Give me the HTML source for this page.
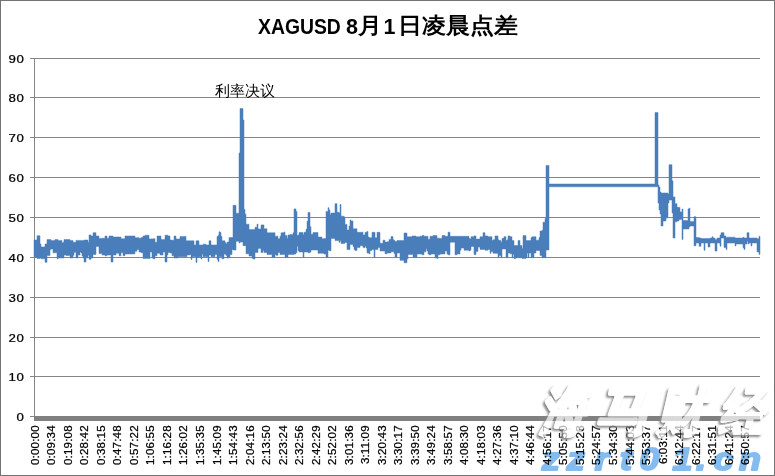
<!DOCTYPE html>
<html><head><meta charset="utf-8"><style>
html,body{margin:0;padding:0;background:#fff;}
body{width:775px;height:476px;overflow:hidden;position:relative;}
svg{position:absolute;left:0;top:0;display:block;}
#title span{position:absolute;white-space:nowrap;font-family:'Liberation Sans',sans-serif;color:#000;}
#title .l{font-size:21.5px;font-weight:bold;top:14.6px;}
#title .c{font-size:23.5px;font-weight:bold;top:10.4px;transform:scaleY(0.92);transform-origin:0 50%;}
#ann{position:absolute;left:214.8px;top:82.2px;font-size:14.7px;font-family:'Liberation Sans',sans-serif;color:#000;white-space:nowrap;}
text{font-family:"Liberation Sans",sans-serif;}
</style></head><body>
<svg width="775" height="476" viewBox="0 0 775 476">
<defs>
<filter id="sh" x="-10%" y="-10%" width="120%" height="130%">
<feOffset in="SourceAlpha" dx="-2" dy="2" result="o"/>
<feGaussianBlur in="o" stdDeviation="0.8" result="b"/>
<feComposite in="b" in2="SourceAlpha" operator="out" result="bo"/>
<feFlood flood-color="#858585"/>
<feComposite in2="bo" operator="in" result="s"/>
<feComponentTransfer in="SourceGraphic" result="sg"><feFuncA type="linear" slope="0.7"/></feComponentTransfer>
<feMerge><feMergeNode in="s"/><feMergeNode in="sg"/></feMerge>
</filter>
</defs>
<rect x="0.5" y="0.5" width="774" height="475" fill="#fff" stroke="#737373" stroke-width="1"/>
<g stroke="#868686" stroke-width="1" shape-rendering="crispEdges"><line x1="30" y1="58.5" x2="760" y2="58.5"/><line x1="30" y1="97.5" x2="760" y2="97.5"/><line x1="30" y1="137.5" x2="760" y2="137.5"/><line x1="30" y1="177.5" x2="760" y2="177.5"/><line x1="30" y1="217.5" x2="760" y2="217.5"/><line x1="30" y1="257.5" x2="760" y2="257.5"/><line x1="30" y1="297.5" x2="760" y2="297.5"/><line x1="30" y1="337.5" x2="760" y2="337.5"/><line x1="30" y1="376.5" x2="760" y2="376.5"/><line x1="30" y1="416.5" x2="34" y2="416.5"/></g>
<line x1="34.5" y1="58" x2="34.5" y2="417" stroke="#868686" stroke-width="1" shape-rendering="crispEdges"/>
<rect x="34" y="416" width="726" height="5" fill="#808080"/>
<g font-size="11.5" fill="#000" stroke="#000" stroke-width="0.25" text-anchor="end" letter-spacing="0.5"><text transform="translate(24.4,62.8) scale(1.15,1)">90</text><text transform="translate(24.4,101.8) scale(1.15,1)">80</text><text transform="translate(24.4,141.8) scale(1.15,1)">70</text><text transform="translate(24.4,181.8) scale(1.15,1)">60</text><text transform="translate(24.4,221.8) scale(1.15,1)">50</text><text transform="translate(24.4,261.8) scale(1.15,1)">40</text><text transform="translate(24.4,301.8) scale(1.15,1)">30</text><text transform="translate(24.4,341.8) scale(1.15,1)">20</text><text transform="translate(24.4,380.8) scale(1.15,1)">10</text><text transform="translate(24.4,420.8) scale(1.15,1)">0</text></g>
<g font-size="11.5" fill="#000" stroke="#000" stroke-width="0.25" text-anchor="end" letter-spacing="0.2"><text transform="translate(38.80,425.2) rotate(-90)">0:00:00</text><text transform="translate(55.32,425.2) rotate(-90)">0:09:34</text><text transform="translate(71.84,425.2) rotate(-90)">0:19:08</text><text transform="translate(88.36,425.2) rotate(-90)">0:28:42</text><text transform="translate(104.88,425.2) rotate(-90)">0:38:15</text><text transform="translate(121.40,425.2) rotate(-90)">0:47:48</text><text transform="translate(137.92,425.2) rotate(-90)">0:57:22</text><text transform="translate(154.44,425.2) rotate(-90)">1:06:55</text><text transform="translate(170.96,425.2) rotate(-90)">1:16:28</text><text transform="translate(187.48,425.2) rotate(-90)">1:26:02</text><text transform="translate(204.00,425.2) rotate(-90)">1:35:35</text><text transform="translate(220.52,425.2) rotate(-90)">1:45:09</text><text transform="translate(237.04,425.2) rotate(-90)">1:54:43</text><text transform="translate(253.56,425.2) rotate(-90)">2:04:16</text><text transform="translate(270.08,425.2) rotate(-90)">2:13:50</text><text transform="translate(286.60,425.2) rotate(-90)">2:23:24</text><text transform="translate(303.12,425.2) rotate(-90)">2:32:56</text><text transform="translate(319.64,425.2) rotate(-90)">2:42:29</text><text transform="translate(336.16,425.2) rotate(-90)">2:52:02</text><text transform="translate(352.68,425.2) rotate(-90)">3:01:36</text><text transform="translate(369.20,425.2) rotate(-90)">3:11:09</text><text transform="translate(385.72,425.2) rotate(-90)">3:20:43</text><text transform="translate(402.24,425.2) rotate(-90)">3:30:17</text><text transform="translate(418.76,425.2) rotate(-90)">3:39:50</text><text transform="translate(435.28,425.2) rotate(-90)">3:49:24</text><text transform="translate(451.80,425.2) rotate(-90)">3:58:57</text><text transform="translate(468.32,425.2) rotate(-90)">4:08:30</text><text transform="translate(484.84,425.2) rotate(-90)">4:18:03</text><text transform="translate(501.36,425.2) rotate(-90)">4:27:36</text><text transform="translate(517.88,425.2) rotate(-90)">4:37:10</text><text transform="translate(534.40,425.2) rotate(-90)">4:46:44</text><text transform="translate(550.92,425.2) rotate(-90)">4:56:17</text><text transform="translate(567.44,425.2) rotate(-90)">5:05:50</text><text transform="translate(583.96,425.2) rotate(-90)">5:15:23</text><text transform="translate(600.48,425.2) rotate(-90)">5:24:57</text><text transform="translate(617.00,425.2) rotate(-90)">5:34:30</text><text transform="translate(633.52,425.2) rotate(-90)">5:44:03</text><text transform="translate(650.04,425.2) rotate(-90)">5:53:37</text><text transform="translate(666.56,425.2) rotate(-90)">6:03:11</text><text transform="translate(683.08,425.2) rotate(-90)">6:12:44</text><text transform="translate(699.60,425.2) rotate(-90)">6:22:17</text><text transform="translate(716.12,425.2) rotate(-90)">6:31:51</text><text transform="translate(732.64,425.2) rotate(-90)">6:41:24</text><text transform="translate(749.16,425.2) rotate(-90)">6:50:57</text></g>
<polygon points="34,240 35,240 35,240 36,240 36,240 37,240 37,235.7 38,235.7 38,235.7 39,235.7 39,235.7 40,235.7 40,244 41,244 41,246.9 42,246.9 42,246.9 43,246.9 43,246.9 44,246.9 44,246.9 45,246.9 45,244 46,244 46,244 47,244 47,239.6 48,239.6 48,239.6 49,239.6 49,239.6 50,239.6 50,239.6 51,239.6 51,240.4 52,240.4 52,240.4 53,240.4 53,240.4 54,240.4 54,240.4 55,240.4 55,239.6 56,239.6 56,239.6 57,239.6 57,239.6 58,239.6 58,240.4 59,240.4 59,240.4 60,240.4 60,240.4 61,240.4 61,240.4 62,240.4 62,243 63,243 63,242.2 64,242.2 64,239.6 65,239.6 65,239.6 66,239.6 66,239.6 67,239.6 67,239.6 68,239.6 68,239.6 69,239.6 69,239.6 70,239.6 70,240.4 71,240.4 71,240.4 72,240.4 72,240.4 73,240.4 73,242.2 74,242.2 74,242.2 75,242.2 75,242.2 76,242.2 76,240.4 77,240.4 77,240.4 78,240.4 78,240.4 79,240.4 79,240.4 80,240.4 80,240.4 81,240.4 81,240.4 82,240.4 82,240.4 83,240.4 83,240.4 84,240.4 84,240 85,240 85,240 86,240 86,240 87,240 87,240 88,240 88,242.2 89,242.2 89,234.9 90,234.9 90,234.9 91,234.9 91,236 92,236 92,236 93,236 93,232.7 94,232.7 94,232.7 95,232.7 95,232.7 96,232.7 96,236 97,236 97,236 98,236 98,236 99,236 99,238.5 100,238.5 100,238.5 101,238.5 101,238.5 102,238.5 102,238.2 103,238.2 103,238.2 104,238.2 104,238.2 105,238.2 105,236 106,236 106,236 107,236 107,238.2 108,238.2 108,238.2 109,238.2 109,236 110,236 110,236 111,236 111,236 112,236 112,236 113,236 113,237 114,237 114,237 115,237 115,237 116,237 116,237 117,237 117,237 118,237 118,237 119,237 119,237 120,237 120,237 121,237 121,238.7 122,238.7 122,238.7 123,238.7 123,238.7 124,238.7 124,238.7 125,238.7 125,236 126,236 126,236 127,236 127,236 128,236 128,236 129,236 129,236 130,236 130,236 131,236 131,236 132,236 132,236 133,236 133,236 134,236 134,236 135,236 135,237.7 136,237.7 136,237.7 137,237.7 137,237.7 138,237.7 138,237.7 139,237.7 139,238.2 140,238.2 140,238.2 141,238.2 141,237.5 142,237.5 142,237.5 143,237.5 143,236 144,236 144,236 145,236 145,235.2 146,235.2 146,235.2 147,235.2 147,235.2 148,235.2 148,235.2 149,235.2 149,238.9 150,238.9 150,238.9 151,238.9 151,238.9 152,238.9 152,238.9 153,238.9 153,238.8 154,238.8 154,238.8 155,238.8 155,242.2 156,242.2 156,242.2 157,242.2 157,236 158,236 158,236 159,236 159,236 160,236 160,236 161,236 161,239.4 162,239.4 162,239.4 163,239.4 163,239.4 164,239.4 164,239.4 165,239.4 165,235.2 166,235.2 166,235.2 167,235.2 167,235.2 168,235.2 168,236 169,236 169,236 170,236 170,240 171,240 171,240 172,240 172,240.3 173,240.3 173,240.3 174,240.3 174,236 175,236 175,236 176,236 176,239 177,239 177,239 178,239 178,239 179,239 179,239 180,239 180,236.4 181,236.4 181,236.4 182,236.4 182,236.4 183,236.4 183,236.4 184,236.4 184,236.4 185,236.4 185,236.4 186,236.4 186,240.8 187,240.8 187,240.8 188,240.8 188,240.8 189,240.8 189,240.8 190,240.8 190,240.8 191,240.8 191,240.8 192,240.8 192,240.8 193,240.8 193,240.8 194,240.8 194,245 195,245 195,245 196,245 196,240.8 197,240.8 197,240.8 198,240.8 198,240.8 199,240.8 199,245 200,245 200,245 201,245 201,245 202,245 202,245 203,245 203,244.2 204,244.2 204,244.2 205,244.2 205,244.2 206,244.2 206,245 207,245 207,245 208,245 208,245 209,245 209,240.8 210,240.8 210,240.8 211,240.8 211,245 212,245 212,245 213,245 213,245 214,245 214,245 215,245 215,245 216,245 216,245 217,245 217,236.4 218,236.4 218,235.6 219,235.6 219,231.8 220,231.8 220,232.6 221,232.6 221,236.4 222,236.4 222,240.8 223,240.8 223,240.8 224,240.8 224,240.8 225,240.8 225,242.7 226,242.7 226,243.9 227,243.9 227,242 228,242 228,242 229,242 229,237.6 230,237.6 230,237.6 231,237.6 231,237.6 232,237.6 232,237.6 233,237.6 233,205.3 234,205.3 234,205.3 235,205.3 235,205.3 236,205.3 236,213.2 237,213.2 237,213.2 238,213.2 238,213.2 239,213.2 239,153 240,153 240,108.5 241,108.5 241,108.5 242,108.5 242,108.5 243,108.5 243,120 244,120 244,209.4 245,209.4 245,214.2 246,214.2 246,224.2 247,224.2 247,224.2 248,224.2 248,224.2 249,224.2 249,229.6 250,229.6 250,229.6 251,229.6 251,229.6 252,229.6 252,229.6 253,229.6 253,229.6 254,229.6 254,229.6 255,229.6 255,227.2 256,227.2 256,227.2 257,227.2 257,224.1 258,224.1 258,229 259,229 259,229 260,229 260,229 261,229 261,224.9 262,224.9 262,224.9 263,224.9 263,224.9 264,224.9 264,228.8 265,228.8 265,228.8 266,228.8 266,228.8 267,228.8 267,232.8 268,232.8 268,232.8 269,232.8 269,232.8 270,232.8 270,232.8 271,232.8 271,232.8 272,232.8 272,232.8 273,232.8 273,232.8 274,232.8 274,232.8 275,232.8 275,236.2 276,236.2 276,236.2 277,236.2 277,236.2 278,236.2 278,238.7 279,238.7 279,238.7 280,238.7 280,236.2 281,236.2 281,232.8 282,232.8 282,232.8 283,232.8 283,232.8 284,232.8 284,232 285,232 285,235.4 286,235.4 286,235.4 287,235.4 287,238.3 288,238.3 288,234.9 289,234.9 289,234.9 290,234.9 290,234.6 291,234.6 291,234.6 292,234.6 292,234.6 293,234.6 293,232.8 294,232.8 294,208.9 295,208.9 295,208.9 296,208.9 296,211.5 297,211.5 297,235.4 298,235.4 298,235.1 299,235.1 299,232.5 300,232.5 300,232.5 301,232.5 301,232.5 302,232.5 302,232.5 303,232.5 303,234.8 304,234.8 304,232.3 305,232.3 305,232.3 306,232.3 306,229.2 307,229.2 307,221.2 308,221.2 308,212.4 309,212.4 309,212.4 310,212.4 310,226.8 311,226.8 311,234.3 312,234.3 312,234.3 313,234.3 313,232.5 314,232.5 314,232.5 315,232.5 315,232.5 316,232.5 316,232.5 317,232.5 317,232.5 318,232.5 318,237 319,237 319,237 320,237 320,237 321,237 321,237 322,237 322,238.8 323,238.8 323,238.8 324,238.8 324,238.6 325,238.6 325,238.6 326,238.6 326,211.6 327,211.6 327,211.6 328,211.6 328,207.7 329,207.7 329,210 330,210 330,214.5 331,214.5 331,213 332,213 332,213 333,213 333,213 334,213 334,213 335,213 335,203.7 336,203.7 336,203.7 337,203.7 337,212.2 338,212.2 338,212.2 339,212.2 339,213 340,213 340,204.5 341,204.5 341,216.2 342,216.2 342,216.2 343,216.2 343,216.2 344,216.2 344,217 345,217 345,224.4 346,224.4 346,224.4 347,224.4 347,229.9 348,229.9 348,229.9 349,229.9 349,226.1 350,226.1 350,220.1 351,220.1 351,220.9 352,220.9 352,220.9 353,220.9 353,228.8 354,228.8 354,228.8 355,228.8 355,228.8 356,228.8 356,228.8 357,228.8 357,232.3 358,232.3 358,232.3 359,232.3 359,232.3 360,232.3 360,232.3 361,232.3 361,232.3 362,232.3 362,232.3 363,232.3 363,234.9 364,234.9 364,234.9 365,234.9 365,232.3 366,232.3 366,232.3 367,232.3 367,231.5 368,231.5 368,236.9 369,236.9 369,237.7 370,237.7 370,237.7 371,237.7 371,237.7 372,237.7 372,232.3 373,232.3 373,232.3 374,232.3 374,232.3 375,232.3 375,237.7 376,237.7 376,237.7 377,237.7 377,232.3 378,232.3 378,232.3 379,232.3 379,232.3 380,232.3 380,243.2 381,243.2 381,243.2 382,243.2 382,243.2 383,243.2 383,240.2 384,240.2 384,240.2 385,240.2 385,242.1 386,242.1 386,242.1 387,242.1 387,241.8 388,241.8 388,241.8 389,241.8 389,239.4 390,239.4 390,239.4 391,239.4 391,236.6 392,236.6 392,236.6 393,236.6 393,239.7 394,239.7 394,240.5 395,240.5 395,241.4 396,241.4 396,241.4 397,241.4 397,240.5 398,240.5 398,240.5 399,240.5 399,240.5 400,240.5 400,240.6 401,240.6 401,240.6 402,240.6 402,240.6 403,240.6 403,240.6 404,240.6 404,233 405,233 405,233 406,233 406,233 407,233 407,236.8 408,236.8 408,236.8 409,236.8 409,236.8 410,236.8 410,236.8 411,236.8 411,236.8 412,236.8 412,236 413,236 413,236 414,236 414,236 415,236 415,236 416,236 416,236.8 417,236.8 417,236.8 418,236.8 418,236.8 419,236.8 419,236.8 420,236.8 420,236.3 421,236.3 421,236.3 422,236.3 422,235.5 423,235.5 423,235.5 424,235.5 424,236.3 425,236.3 425,236.3 426,236.3 426,236.3 427,236.3 427,236.3 428,236.3 428,239.3 429,239.3 429,239.3 430,239.3 430,236.3 431,236.3 431,236.3 432,236.3 432,236.3 433,236.3 433,235.5 434,235.5 434,235.5 435,235.5 435,235.5 436,235.5 436,235.5 437,235.5 437,238.2 438,238.2 438,238.2 439,238.2 439,238.2 440,238.2 440,238.5 441,238.5 441,238.5 442,238.5 442,235.5 443,235.5 443,235.5 444,235.5 444,235.5 445,235.5 445,236.3 446,236.3 446,236.3 447,236.3 447,236.3 448,236.3 448,232.2 449,232.2 449,232.2 450,232.2 450,236.3 451,236.3 451,236.3 452,236.3 452,236.3 453,236.3 453,236.3 454,236.3 454,236.3 455,236.3 455,236.3 456,236.3 456,236.3 457,236.3 457,236.3 458,236.3 458,236.3 459,236.3 459,236.3 460,236.3 460,236.3 461,236.3 461,236.3 462,236.3 462,236.3 463,236.3 463,236.3 464,236.3 464,236.3 465,236.3 465,236.3 466,236.3 466,236.3 467,236.3 467,236.3 468,236.3 468,236.3 469,236.3 469,238.6 470,238.6 470,239 471,239 471,236.7 472,236.7 472,236.7 473,236.7 473,236.7 474,236.7 474,235.9 475,235.9 475,235.9 476,235.9 476,239.1 477,239.1 477,239.1 478,239.1 478,239.1 479,239.1 479,239.1 480,239.1 480,236.7 481,236.7 481,236.7 482,236.7 482,236.7 483,236.7 483,232.7 484,232.7 484,232.7 485,232.7 485,235.9 486,235.9 486,235.9 487,235.9 487,235.9 488,235.9 488,236.7 489,236.7 489,236.7 490,236.7 490,236.7 491,236.7 491,236.7 492,236.7 492,240.6 493,240.6 493,239.8 494,239.8 494,239.8 495,239.8 495,235.9 496,235.9 496,235.9 497,235.9 497,235.9 498,235.9 498,239.8 499,239.8 499,240.6 500,240.6 500,240.6 501,240.6 501,242.2 502,242.2 502,238.3 503,238.3 503,238.3 504,238.3 504,236.7 505,236.7 505,236.7 506,236.7 506,240.6 507,240.6 507,239.8 508,239.8 508,235.9 509,235.9 509,235.9 510,235.9 510,236.7 511,236.7 511,236.7 512,236.7 512,240.6 513,240.6 513,240.6 514,240.6 514,245.5 515,245.5 515,245.5 516,245.5 516,245.5 517,245.5 517,245.5 518,245.5 518,240.6 519,240.6 519,240.6 520,240.6 520,245.5 521,245.5 521,245.5 522,245.5 522,248.4 523,248.4 523,235.6 524,235.6 524,235.6 525,235.6 525,235.6 526,235.6 526,240.6 527,240.6 527,240.6 528,240.6 528,240.6 529,240.6 529,240.6 530,240.6 530,240.6 531,240.6 531,237.6 532,237.6 532,236.8 533,236.8 533,236.8 534,236.8 534,236.8 535,236.8 535,236.8 536,236.8 536,240.2 537,240.2 537,240.2 538,240.2 538,240.2 539,240.2 539,237.6 540,237.6 540,231 541,231 541,231 542,231 542,230.2 543,230.2 543,222.2 544,222.2 544,222.2 545,222.2 545,218.5 546,218.5 546,165.4 547,165.4 547,165.4 548,165.4 548,165.4 549,165.4 549,184 550,184 550,184 551,184 551,184 552,184 552,184 553,184 553,184 554,184 554,184 555,184 555,184 556,184 556,184 557,184 557,184 558,184 558,184 559,184 559,184 560,184 560,184 561,184 561,184 562,184 562,184 563,184 563,184 564,184 564,184 565,184 565,184 566,184 566,184 567,184 567,184 568,184 568,184 569,184 569,184 570,184 570,184 571,184 571,184 572,184 572,184 573,184 573,184 574,184 574,184 575,184 575,184 576,184 576,184 577,184 577,184 578,184 578,184 579,184 579,184 580,184 580,184 581,184 581,184 582,184 582,184 583,184 583,184 584,184 584,184 585,184 585,184 586,184 586,184 587,184 587,184 588,184 588,184 589,184 589,184 590,184 590,184 591,184 591,184 592,184 592,184 593,184 593,184 594,184 594,184 595,184 595,184 596,184 596,184 597,184 597,184 598,184 598,184 599,184 599,184 600,184 600,184 601,184 601,184 602,184 602,184 603,184 603,184 604,184 604,184 605,184 605,184 606,184 606,184 607,184 607,184 608,184 608,184 609,184 609,184 610,184 610,184 611,184 611,184 612,184 612,184 613,184 613,184 614,184 614,184 615,184 615,184 616,184 616,184 617,184 617,184 618,184 618,184 619,184 619,184 620,184 620,184 621,184 621,184 622,184 622,184 623,184 623,184 624,184 624,184 625,184 625,184 626,184 626,184 627,184 627,184 628,184 628,184 629,184 629,184 630,184 630,184 631,184 631,184 632,184 632,184 633,184 633,184 634,184 634,184 635,184 635,184 636,184 636,184 637,184 637,184 638,184 638,184 639,184 639,184 640,184 640,184 641,184 641,184 642,184 642,184 643,184 643,184 644,184 644,184 645,184 645,184 646,184 646,184 647,184 647,184 648,184 648,184 649,184 649,184 650,184 650,184 651,184 651,184 652,184 652,184 653,184 653,184 654,184 654,184 655,184 655,112.6 656,112.6 656,112.6 657,112.6 657,112.6 658,112.6 658,185 659,185 659,187 660,187 660,192 661,192 661,193 662,193 662,193 663,193 663,193 664,193 664,193 665,193 665,193 666,193 666,193 667,193 667,193 668,193 668,194 669,194 669,164.7 670,164.7 670,164.7 671,164.7 671,164.7 672,164.7 672,180.8 673,180.8 673,196.9 674,196.9 674,196.9 675,196.9 675,203.7 676,203.7 676,203.7 677,203.7 677,207.3 678,207.3 678,207.3 679,207.3 679,207.4 680,207.4 680,211.9 681,211.9 681,211.9 682,211.9 682,209 683,209 683,220.5 684,220.5 684,220.5 685,220.5 685,220.5 686,220.5 686,220.5 687,220.5 687,220.5 688,220.5 688,209 689,209 689,208.2 690,208.2 690,221.4 691,221.4 691,221.4 692,221.4 692,221.4 693,221.4 693,221.4 694,221.4 694,216.7 695,216.7 695,216.7 696,216.7 696,237.5 697,237.5 697,237.5 698,237.5 698,237.5 699,237.5 699,238 700,238 700,238 701,238 701,238.5 702,238.5 702,238.5 703,238.5 703,238.5 704,238.5 704,238.5 705,238.5 705,238.5 706,238.5 706,238.5 707,238.5 707,238.5 708,238.5 708,238.5 709,238.5 709,238.5 710,238.5 710,238 711,238 711,238 712,238 712,236.7 713,236.7 713,238 714,238 714,238 715,238 715,239.6 716,239.6 716,239.6 717,239.6 717,238 718,238 718,238 719,238 719,238 720,238 720,235.1 721,235.1 721,232.7 722,232.7 722,232.7 723,232.7 723,232.7 724,232.7 724,236 725,236 725,236 726,236 726,237.8 727,237.8 727,237.2 728,237.2 728,237.2 729,237.2 729,237.2 730,237.2 730,237.2 731,237.2 731,237.2 732,237.2 732,237.2 733,237.2 733,237.2 734,237.2 734,237.2 735,237.2 735,238 736,238 736,238 737,238 737,238 738,238 738,238 739,238 739,238 740,238 740,238 741,238 741,238 742,238 742,238 743,238 743,237.2 744,237.2 744,238 745,238 745,238 746,238 746,238 747,238 747,232.7 748,232.7 748,232.7 749,232.7 749,238 750,238 750,238 751,238 751,238 752,238 752,238 753,238 753,238 754,238 754,238 755,238 755,238 756,238 756,238 757,238 757,238.7 758,238.7 758,238.7 759,238.7 759,236.3 760,236.3 760,254.4 759,254.4 759,251.9 758,251.9 758,251.9 757,251.9 757,243 756,243 756,243 755,243 755,243 754,243 754,243 753,243 753,243 752,243 752,246 751,246 751,243 750,243 750,243 749,243 749,244 748,244 748,241.2 747,241.2 747,244 746,244 746,244 745,244 745,249.4 744,249.4 744,247.7 743,247.7 743,244 742,244 742,244 741,244 741,244 740,244 740,244 739,244 739,244 738,244 738,244 737,244 737,244 736,244 736,246 735,246 735,243 734,243 734,243 733,243 733,243 732,243 732,243 731,243 731,243 730,243 730,243 729,243 729,243 728,243 728,243 727,243 727,249.4 726,249.4 726,247.5 725,247.5 725,247.5 724,247.5 724,238 723,238 723,238 722,238 722,238 721,238 721,246.2 720,246.2 720,243 719,243 719,243 718,243 718,243 717,243 717,251.1 716,251.1 716,251.1 715,251.1 715,243 714,243 714,243 713,243 713,243 712,243 712,243 711,243 711,243 710,243 710,247 709,247 709,247 708,247 708,243 707,243 707,243 706,243 706,243 705,243 705,250.3 704,250.3 704,243 703,243 703,243 702,243 702,243 701,243 701,246.2 700,246.2 700,246.2 699,246.2 699,243 698,243 698,243 697,243 697,243 696,243 696,245.8 695,245.8 695,245.8 694,245.8 694,226 693,226 693,226 692,226 692,226 691,226 691,226 690,226 690,226.8 689,226.8 689,229 688,229 688,229 687,229 687,229 686,229 686,229 685,229 685,229 684,229 684,229 683,229 683,239.4 682,239.4 682,219.4 681,219.4 681,219.4 680,219.4 680,219.4 679,219.4 679,221 678,221 678,221 677,221 677,221.8 676,221.8 676,221.8 675,221.8 675,238 674,238 674,238 673,238 673,213 672,213 672,200 671,200 671,200 670,200 670,200 669,200 669,203 668,203 668,218 667,218 667,218 666,218 666,221 665,221 665,221 664,221 664,221 663,221 663,226 662,226 662,226 661,226 661,214 660,214 660,210 659,210 659,203 658,203 658,186.8 657,186.8 657,186.8 656,186.8 656,186.8 655,186.8 655,186.8 654,186.8 654,186.8 653,186.8 653,186.8 652,186.8 652,186.8 651,186.8 651,186.8 650,186.8 650,186.8 649,186.8 649,186.8 648,186.8 648,186.8 647,186.8 647,186.8 646,186.8 646,186.8 645,186.8 645,186.8 644,186.8 644,186.8 643,186.8 643,186.8 642,186.8 642,186.8 641,186.8 641,186.8 640,186.8 640,186.8 639,186.8 639,186.8 638,186.8 638,186.8 637,186.8 637,186.8 636,186.8 636,186.8 635,186.8 635,186.8 634,186.8 634,186.8 633,186.8 633,186.8 632,186.8 632,186.8 631,186.8 631,186.8 630,186.8 630,186.8 629,186.8 629,186.8 628,186.8 628,186.8 627,186.8 627,186.8 626,186.8 626,186.8 625,186.8 625,186.8 624,186.8 624,186.8 623,186.8 623,186.8 622,186.8 622,186.8 621,186.8 621,186.8 620,186.8 620,186.8 619,186.8 619,186.8 618,186.8 618,186.8 617,186.8 617,186.8 616,186.8 616,186.8 615,186.8 615,186.8 614,186.8 614,186.8 613,186.8 613,186.8 612,186.8 612,186.8 611,186.8 611,186.8 610,186.8 610,186.8 609,186.8 609,186.8 608,186.8 608,186.8 607,186.8 607,186.8 606,186.8 606,186.8 605,186.8 605,186.8 604,186.8 604,186.8 603,186.8 603,186.8 602,186.8 602,186.8 601,186.8 601,186.8 600,186.8 600,186.8 599,186.8 599,186.8 598,186.8 598,186.8 597,186.8 597,186.8 596,186.8 596,186.8 595,186.8 595,186.8 594,186.8 594,186.8 593,186.8 593,186.8 592,186.8 592,186.8 591,186.8 591,186.8 590,186.8 590,186.8 589,186.8 589,186.8 588,186.8 588,186.8 587,186.8 587,186.8 586,186.8 586,186.8 585,186.8 585,186.8 584,186.8 584,186.8 583,186.8 583,186.8 582,186.8 582,186.8 581,186.8 581,186.8 580,186.8 580,186.8 579,186.8 579,186.8 578,186.8 578,186.8 577,186.8 577,186.8 576,186.8 576,186.8 575,186.8 575,186.8 574,186.8 574,186.8 573,186.8 573,186.8 572,186.8 572,186.8 571,186.8 571,186.8 570,186.8 570,186.8 569,186.8 569,186.8 568,186.8 568,186.8 567,186.8 567,186.8 566,186.8 566,186.8 565,186.8 565,186.8 564,186.8 564,186.8 563,186.8 563,186.8 562,186.8 562,186.8 561,186.8 561,186.8 560,186.8 560,186.8 559,186.8 559,186.8 558,186.8 558,186.8 557,186.8 557,186.8 556,186.8 556,186.8 555,186.8 555,186.8 554,186.8 554,186.8 553,186.8 553,186.8 552,186.8 552,186.8 551,186.8 551,186.8 550,186.8 550,186.8 549,186.8 549,250 548,250 548,250 547,250 547,250 546,250 546,257.7 545,257.7 545,257.7 544,257.7 544,257.7 543,257.7 543,257.7 542,257.7 542,255.4 541,255.4 541,255.4 540,255.4 540,250.7 539,250.7 539,250.5 538,250.5 538,250.5 537,250.5 537,250.5 536,250.5 536,253 535,253 535,253 534,253 534,257.7 533,257.7 533,257.7 532,257.7 532,257.7 531,257.7 531,253 530,253 530,253 529,253 529,257.7 528,257.7 528,253 527,253 527,257.7 526,257.7 526,258.5 525,258.5 525,258.5 524,258.5 524,258.5 523,258.5 523,258.5 522,258.5 522,257.7 521,257.7 521,257.7 520,257.7 520,257.7 519,257.7 519,257.7 518,257.7 518,257.7 517,257.7 517,257.7 516,257.7 516,258.5 515,258.5 515,258.5 514,258.5 514,254.3 513,254.3 513,257.8 512,257.8 512,253.8 511,253.8 511,253.8 510,253.8 510,253 509,253 509,253 508,253 508,257.7 507,257.7 507,257.7 506,257.7 506,249 505,249 505,249 504,249 504,249 503,249 503,249 502,249 502,257.7 501,257.7 501,255.6 500,255.6 500,255.6 499,255.6 499,257.7 498,257.7 498,253.3 497,253.3 497,253.3 496,253.3 496,253.3 495,253.3 495,253.3 494,253.3 494,253.3 493,253.3 493,251.6 492,251.6 492,251.6 491,251.6 491,253.3 490,253.3 490,249.4 489,249.4 489,249.4 488,249.4 488,250.2 487,250.2 487,250.2 486,250.2 486,250.2 485,250.2 485,249.4 484,249.4 484,249.4 483,249.4 483,249.4 482,249.4 482,249.4 481,249.4 481,249.4 480,249.4 480,247 479,247 479,247 478,247 478,251.4 477,251.4 477,251.4 476,251.4 476,254.6 475,254.6 475,254.6 474,254.6 474,246.5 473,246.5 473,246.5 472,246.5 472,246.5 471,246.5 471,250.2 470,250.2 470,251 469,251 469,250.2 468,250.2 468,250.2 467,250.2 467,250.2 466,250.2 466,250.2 465,250.2 465,250.2 464,250.2 464,248 463,248 463,248 462,248 462,248 461,248 461,250.2 460,250.2 460,254 459,254 459,254 458,254 458,254 457,254 457,254.8 456,254.8 456,254.8 455,254.8 455,242.2 454,242.2 454,242.2 453,242.2 453,242.2 452,242.2 452,242.2 451,242.2 451,242.2 450,242.2 450,254.8 449,254.8 449,254.8 448,254.8 448,254 447,254 447,251 446,251 446,251 445,251 445,254 444,254 444,254 443,254 443,254 442,254 442,254 441,254 441,254 440,254 440,254.8 439,254.8 439,254.8 438,254.8 438,258.6 437,258.6 437,257.8 436,257.8 436,257.8 435,257.8 435,254 434,254 434,254 433,254 433,254 432,254 432,254 431,254 431,254.8 430,254.8 430,254.8 429,254.8 429,254 428,254 428,251 427,251 427,248.8 426,248.8 426,251.8 425,251.8 425,251.8 424,251.8 424,254.8 423,254.8 423,254.8 422,254.8 422,254 421,254 421,254 420,254 420,254 419,254 419,254 418,254 418,254 417,254 417,257.4 416,257.4 416,257.4 415,257.4 415,257.4 414,257.4 414,257.4 413,257.4 413,254.4 412,254.4 412,254.4 411,254.4 411,254.4 410,254.4 410,254.4 409,254.4 409,254.4 408,254.4 408,258.8 407,258.8 407,262.8 406,262.8 406,262.8 405,262.8 405,262.8 404,262.8 404,260.3 403,260.3 403,260.3 402,260.3 402,260.3 401,260.3 401,260.3 400,260.3 400,253 399,253 399,253 398,253 398,253 397,253 397,257.4 396,257.4 396,257.4 395,257.4 395,253.6 394,253.6 394,251.8 393,251.8 393,251.8 392,251.8 392,251.8 391,251.8 391,253 390,253 390,253 389,253 389,253 388,253 388,253 387,253 387,253.8 386,253.8 386,253.8 385,253.8 385,251 384,251 384,251 383,251 383,251 382,251 382,251 381,251 381,251 380,251 380,247.4 379,247.4 379,247.4 378,247.4 378,249.6 377,249.6 377,249.6 376,249.6 376,249.6 375,249.6 375,257.5 374,257.5 374,249.6 373,249.6 373,249.6 372,249.6 372,250.4 371,250.4 371,250.4 370,250.4 370,253.8 369,253.8 369,253 368,253 368,253 367,253 367,248 366,248 366,246 365,246 365,247.6 364,247.6 364,247.6 363,247.6 363,245.8 362,245.8 362,245.8 361,245.8 361,245.8 360,245.8 360,247.6 359,247.6 359,247.6 358,247.6 358,247.6 357,247.6 357,250.4 356,250.4 356,250.4 355,250.4 355,249.6 354,249.6 354,246.6 353,246.6 353,244.6 352,244.6 352,244.6 351,244.6 351,244.6 350,244.6 350,249.6 349,249.6 349,249.6 348,249.6 348,249.6 347,249.6 347,242.4 346,242.4 346,242.4 345,242.4 345,243.3 344,243.3 344,243.5 343,243.5 343,243.5 342,243.5 342,243.5 341,243.5 341,240.6 340,240.6 340,242.3 339,242.3 339,240.6 338,240.6 338,240.6 337,240.6 337,240.6 336,240.6 336,240.6 335,240.6 335,238.4 334,238.4 334,238.4 333,238.4 333,238.4 332,238.4 332,238.4 331,238.4 331,250.8 330,250.8 330,250.8 329,250.8 329,250 328,250 328,257.2 327,257.2 327,257.2 326,257.2 326,254.1 325,254.1 325,254.1 324,254.1 324,253.3 323,253.3 323,253.3 322,253.3 322,253.3 321,253.3 321,253.3 320,253.3 320,253.3 319,253.3 319,253.3 318,253.3 318,250 317,250 317,250 316,250 316,250 315,250 315,250 314,250 314,250 313,250 313,250 312,250 312,250 311,250 311,252 310,252 310,252.8 309,252.8 309,252.8 308,252.8 308,252 307,252 307,252 306,252 306,252 305,252 305,252 304,252 304,257.2 303,257.2 303,252 302,252 302,252 301,252 301,252 300,252 300,252 299,252 299,250.5 298,250.5 298,246.1 297,246.1 297,252.5 296,252.5 296,254 295,254 295,254 294,254 294,254.5 293,254.5 293,254.5 292,254.5 292,254.5 291,254.5 291,254.5 290,254.5 290,254.5 289,254.5 289,254.5 288,254.5 288,257.4 287,257.4 287,257.4 286,257.4 286,257.4 285,257.4 285,254.5 284,254.5 284,254.5 283,254.5 283,254.5 282,254.5 282,254.5 281,254.5 281,254.5 280,254.5 280,252.4 279,252.4 279,252.4 278,252.4 278,255.3 277,255.3 277,255.3 276,255.3 276,254.5 275,254.5 275,257.4 274,257.4 274,257.4 273,257.4 273,257.4 272,257.4 272,254.5 271,254.5 271,254.5 270,254.5 270,254.5 269,254.5 269,254.5 268,254.5 268,254.5 267,254.5 267,252.6 266,252.6 266,252.6 265,252.6 265,252.6 264,252.6 264,250.6 263,250.6 263,252.5 262,252.5 262,252.5 261,252.5 261,248.6 260,248.6 260,248.6 259,248.6 259,248.6 258,248.6 258,252.5 257,252.5 257,252.5 256,252.5 256,252.5 255,252.5 255,259 254,259 254,259 253,259 253,258.2 252,258.2 252,256 251,256 251,256 250,256 250,256 249,256 249,253.8 248,253.8 248,253.8 247,253.8 247,253.8 246,253.8 246,245.7 245,245.7 245,245.7 244,245.7 244,245.7 243,245.7 243,242 242,242 242,242 241,242 241,242 240,242 240,243 239,243 239,241.2 238,241.2 238,241.2 237,241.2 237,241.2 236,241.2 236,250 235,250 235,250 234,250 234,250 233,250 233,249.4 232,249.4 232,254.6 231,254.6 231,254.6 230,254.6 230,256.8 229,256.8 229,258 228,258 228,258 227,258 227,255.6 226,255.6 226,254.3 225,254.3 225,253.9 224,253.9 224,258.8 223,258.8 223,258.8 222,258.8 222,256.7 221,256.7 221,256.7 220,256.7 220,256.7 219,256.7 219,261.6 218,261.6 218,259.3 217,259.3 217,254.4 216,254.4 216,254.4 215,254.4 215,256.7 214,256.7 214,256.7 213,256.7 213,256.7 212,256.7 212,256.7 211,256.7 211,255 210,255 210,255 209,255 209,261.6 208,261.6 208,256.7 207,256.7 207,256.7 206,256.7 206,256.7 205,256.7 205,256.7 204,256.7 204,256.7 203,256.7 203,254 202,254 202,258.9 201,258.9 201,256.7 200,256.7 200,256.7 199,256.7 199,257.5 198,257.5 198,257.5 197,257.5 197,262.4 196,262.4 196,256.7 195,256.7 195,256.7 194,256.7 194,256.7 193,256.7 193,256.7 192,256.7 192,259.4 191,259.4 191,254.5 190,254.5 190,254.9 189,254.9 189,254.9 188,254.9 188,254.9 187,254.9 187,256.7 186,256.7 186,256.7 185,256.7 185,256.7 184,256.7 184,256.7 183,256.7 183,256.7 182,256.7 182,256.7 181,256.7 181,256.7 180,256.7 180,256.7 179,256.7 179,256.7 178,256.7 178,258 177,258 177,258 176,258 176,258 175,258 175,258 174,258 174,255.7 173,255.7 173,255.7 172,255.7 172,252.9 171,252.9 171,252.9 170,252.9 170,252.5 169,252.5 169,252.5 168,252.5 168,255 167,255 167,262 166,262 166,262 165,262 165,252.1 164,252.1 164,252.1 163,252.1 163,255 162,255 162,255 161,255 161,255 160,255 160,253.3 159,253.3 159,253.3 158,253.3 158,253.3 157,253.3 157,255.8 156,255.8 156,255.8 155,255.8 155,258.8 154,258.8 154,258.8 153,258.8 153,258 152,258 152,252 151,252 151,252 150,252 150,258.4 149,258.4 149,258.4 148,258.4 148,258.4 147,258.4 147,258.4 146,258.4 146,258.4 145,258.4 145,258.4 144,258.4 144,258.4 143,258.4 143,252.8 142,252.8 142,252.8 141,252.8 141,252 140,252 140,252 139,252 139,249.5 138,249.5 138,249.5 137,249.5 137,251.2 136,251.2 136,251.2 135,251.2 135,253.7 134,253.7 134,254 133,254 133,254 132,254 132,254 131,254 131,254 130,254 130,254 129,254 129,254 128,254 128,254 127,254 127,254 126,254 126,254 125,254 125,255.7 124,255.7 124,255.7 123,255.7 123,252.7 122,252.7 122,252.7 121,252.7 121,255.8 120,255.8 120,255.8 119,255.8 119,253.2 118,253.2 118,253.2 117,253.2 117,253.2 116,253.2 116,255 115,255 115,255 114,255 114,255 113,255 113,262 112,262 112,262 111,262 111,255 110,255 110,255 109,255 109,255 108,255 108,255 107,255 107,255.8 106,255.8 106,255.8 105,255.8 105,255 104,255 104,255 103,255 103,255 102,255 102,253.5 101,253.5 101,253.5 100,253.5 100,253.5 99,253.5 99,246.6 98,246.6 98,246.6 97,246.6 97,246.6 96,246.6 96,254.5 95,254.5 95,254.5 94,254.5 94,254.5 93,254.5 93,258 92,258 92,258 91,258 91,259.3 90,259.3 90,259.3 89,259.3 89,255.3 88,255.3 88,258 87,258 87,258 86,258 86,262 85,262 85,262 84,262 84,258 83,258 83,256 82,256 82,253 81,253 81,252 80,252 80,255 79,255 79,255 78,255 78,258 77,258 77,258 76,258 76,252.3 75,252.3 75,252.3 74,252.3 74,255.3 73,255.3 73,258 72,258 72,258 71,258 71,258 70,258 70,255.5 69,255.5 69,255.5 68,255.5 68,255.5 67,255.5 67,255.5 66,255.5 66,255 65,255 65,255 64,255 64,258 63,258 63,258 62,258 62,258 61,258 61,258 60,258 60,258 59,258 59,258 58,258 58,258.8 57,258.8 57,252.8 56,252.8 56,252.8 55,252.8 55,252.8 54,252.8 54,252.8 53,252.8 53,249 52,249 52,249 51,249 51,249.6 50,249.6 50,255.6 49,255.6 49,255.6 48,255.6 48,255.6 47,255.6 47,262.3 46,262.3 46,262.3 45,262.3 45,258.8 44,258.8 44,258.8 43,258.8 43,258.8 42,258.8 42,258.8 41,258.8 41,258 40,258 40,258.5 39,258.5 39,258.5 38,258.5 38,258.5 37,258.5 37,256.9 36,256.9 36,256.9 35,256.9 35,256.9 34,256.9" fill="#4a7ebb" stroke="#4a7ebb" stroke-width="0.5"/>


<g filter="url(#sh)" font-size="52" font-weight="bold" fill="#fff" stroke="#fff" stroke-width="3" stroke-linejoin="round">
<text transform="translate(539.5,429) skewX(-13) scale(0.88,1)">海</text>
<text transform="translate(596,429) skewX(-13) scale(1.02,1)">马</text>
<text transform="translate(657,429) skewX(-13) scale(0.9,1)">财</text>
<text transform="translate(718.5,430) skewX(-13) scale(0.86,1)">经</text>
</g>
<g font-size="31" font-weight="bold" font-style="italic" fill="#84bcf0" stroke="#84bcf0" stroke-width="2" stroke-linejoin="round" style="mix-blend-mode:multiply">
<text transform="translate(541.9,470) scale(1.15,1)">z</text><text transform="translate(566.7,470) scale(1.15,1)">z</text><text transform="translate(594.7,470) scale(1.15,1)">r</text><text transform="translate(620.0,470) scale(1.15,1)">t</text><text transform="translate(639.5,470) scale(1.15,1)">0</text><text transform="translate(672.4,470) scale(1.15,1)">1</text><text transform="translate(695.9,470) scale(1.15,1)">.</text><text transform="translate(713.6,470) scale(1.15,1)">c</text><text transform="translate(739.0,470) scale(1.15,1)">n</text>
</g>
</svg>
<div id="title">
<span class="l" style="left:258px;transform:scaleX(0.9);transform-origin:0 0">XAGUSD</span><span class="l" style="left:346px">8</span><span class="c" style="left:357.5px">月</span><span class="l" style="left:383.5px">1</span><span class="c" style="left:398px">日</span><span class="c" style="left:421.5px;letter-spacing:0.3px">凌晨点差</span>
</div>
<div id="ann">利率决议</div>
</body></html>
